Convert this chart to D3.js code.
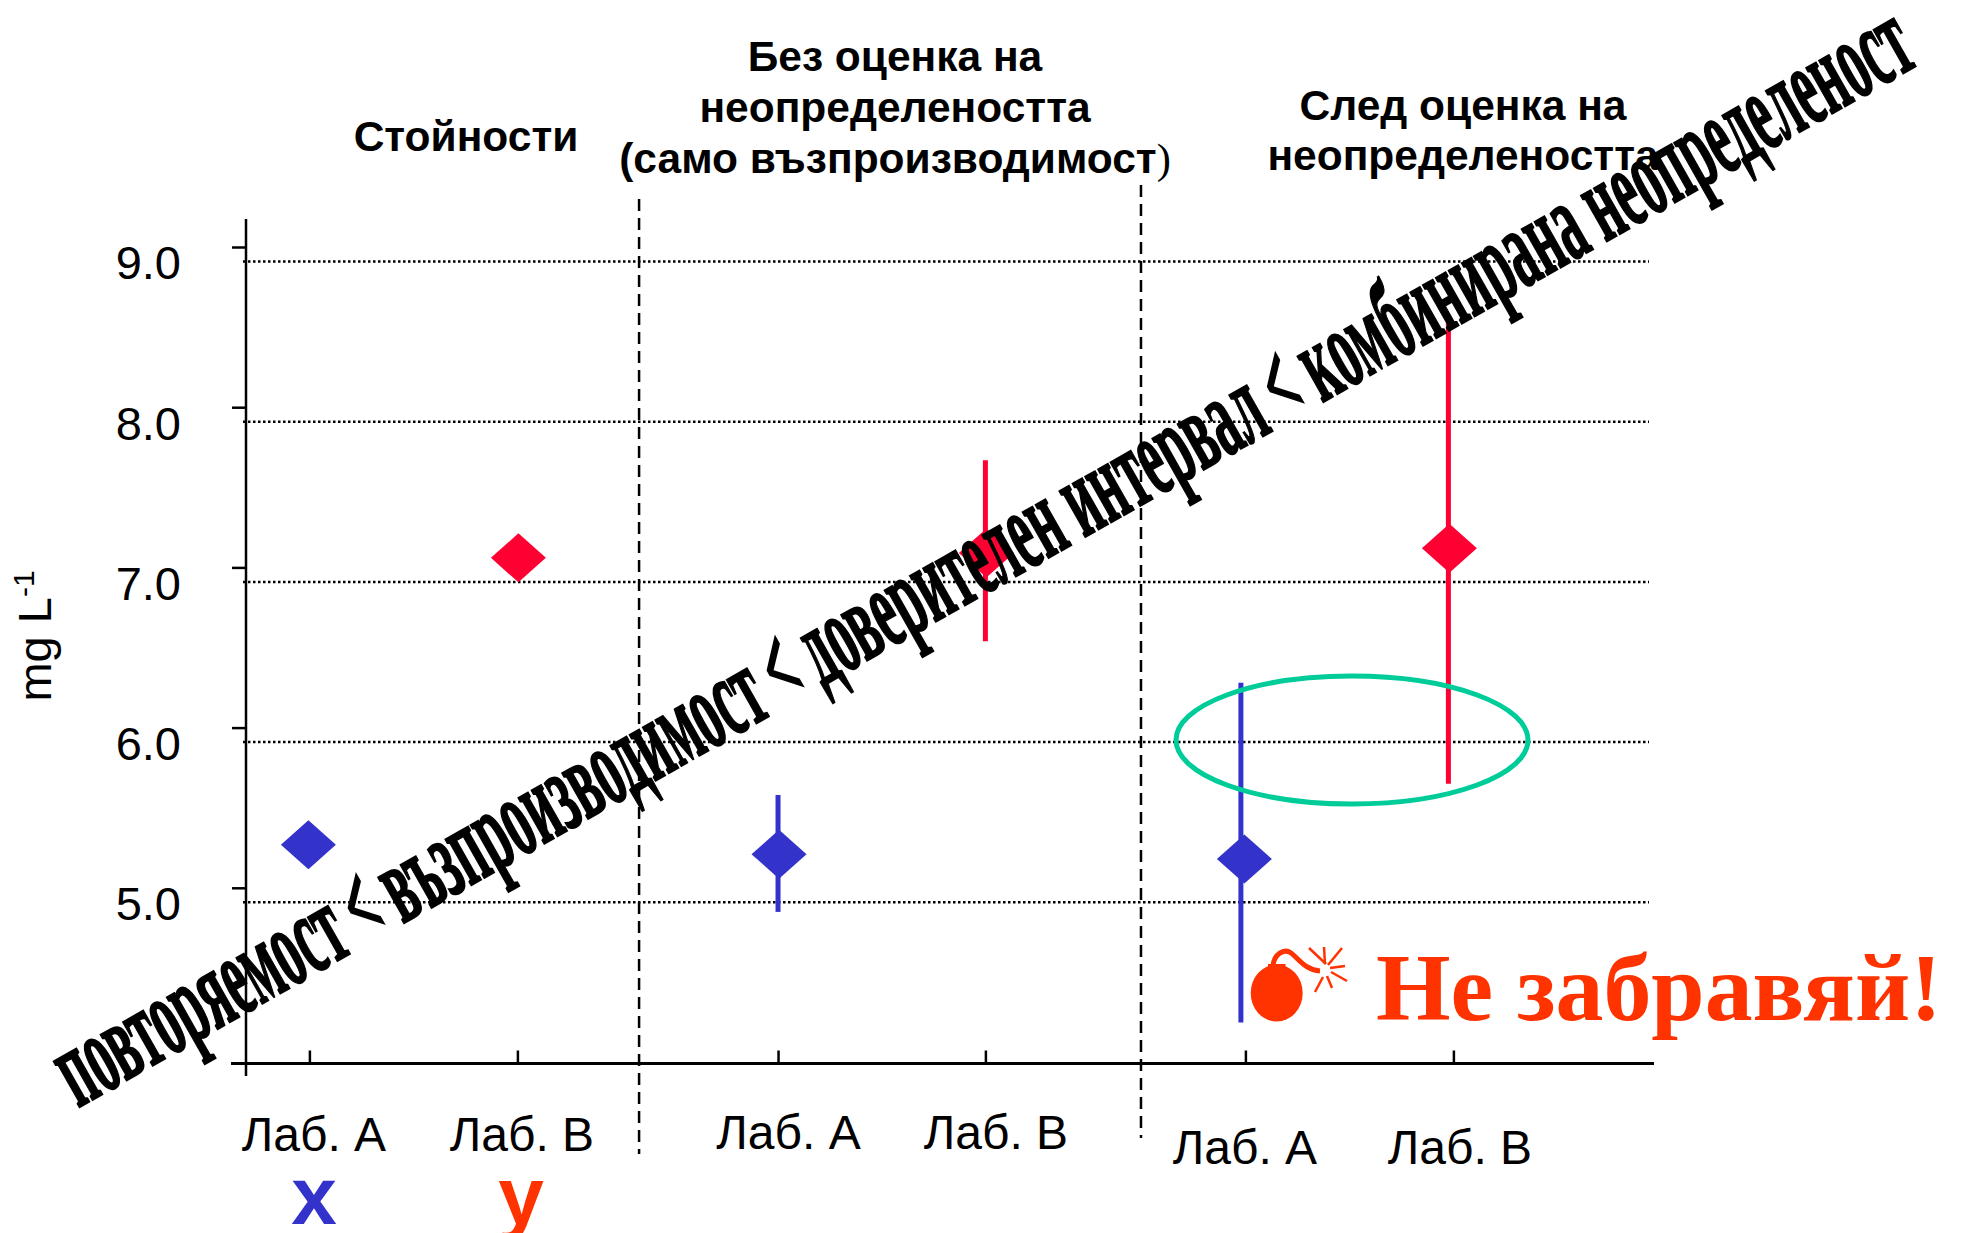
<!DOCTYPE html>
<html><head><meta charset="utf-8">
<script src="https://cdn.jsdelivr.net/npm/d3@7"></script>
<style>html,body{margin:0;padding:0;background:#fff;overflow:hidden}svg{display:block}</style>
</head><body><div id="c"></div>
<script>
// DATA
const categories = ["Лаб. А","Лаб. B","Лаб. А","Лаб. B","Лаб. А","Лаб. B"];
const slots      = [0, 1, 2.253, 3.25, 4.5, 5.5];
const means      = [5.36, 7.15, 5.30, 7.18, 5.27, 7.21];
const errLow     = [null, null, 4.94, 6.63, 4.25, 5.74];
const errHigh    = [null, null, 5.67, 7.76, 6.37, 8.62];
const yTicks     = [4, 5, 6, 7, 8, 9];
const groupRules = [1.585, 3.998];
const headerA = ["Стойности"];
const headerB = ["Без оценка на","неопределеността","(само възпроизводимост"];
const headerC = ["След оценка на","неопределеността"];
const banner = "повторяемост < възпроизводимост < доверителен интервал < комбинирана неопределеност";
const reminder = "Не забравяй!";

// LAYOUT
const W=1961,H=1233, BLUE="#3333CC",RED="#FF0033",ORANGE="#FF3300",GREEN="#00CC99";
const SANS="'Liberation Sans',Arial,sans-serif", SERIF="'Liberation Serif','Times New Roman',serif";
const colorOf=i=>i%2?RED:BLUE;
const y=d3.scaleLinear().domain([4,9]).range([1062.5,261.5]);
const x=d3.scaleLinear().domain([0,1]).range([309.4,517.4]);
const svg=d3.select("#c").append("svg").attr("width",W).attr("height",H).attr("viewBox",`0 0 ${W} ${H}`);

// gridlines
svg.append("g").selectAll("line").data(yTicks.filter(v=>v>4)).join("line")
  .attr("x1",243).attr("x2",1649).attr("y1",d=>y(d)).attr("y2",d=>y(d))
  .attr("stroke","#000").attr("stroke-width",2.5).attr("stroke-dasharray","2.5 2.5");

// dashed group rules
const ruleTop=[199,185], ruleBottom=[1154,1138];
svg.append("g").selectAll("line").data(groupRules).join("line")
  .attr("x1",d=>x(d)).attr("x2",d=>x(d)).attr("y1",(d,i)=>ruleTop[i]).attr("y2",(d,i)=>ruleBottom[i])
  .attr("stroke","#000").attr("stroke-width",2.5).attr("stroke-dasharray","12 7");

// y axis (ticks sit slightly above the gridlines, as in the picture)
const yAxis=svg.append("g").attr("transform","translate(246,-14.5)")
  .call(d3.axisLeft(y).tickValues(yTicks.filter(v=>v>4)).tickSize(14).tickFormat(d3.format(".1f")));
yAxis.select(".domain").remove();
yAxis.selectAll("line").attr("stroke","#000").attr("stroke-width",2.5);
yAxis.selectAll("text").attr("x",-65).attr("dy","0.72em").attr("font-family",SANS).attr("font-size",47).attr("fill","#000");
yAxis.selectAll("text").attr("y",-2);
svg.append("line").attr("x1",246).attr("x2",246).attr("y1",219).attr("y2",1076).attr("stroke","#000").attr("stroke-width",2.5);

// x axis
const xAxis=svg.append("g").attr("transform","translate(0,1063.5)")
  .call(d3.axisBottom(x).tickValues(slots).tickSize(-13).tickFormat((d,i)=>categories[i]));
xAxis.select(".domain").remove();
xAxis.selectAll("line").attr("stroke","#000").attr("stroke-width",2.5);
const labelDx=[4,4,10,10,-1,6], labelBase=[1151,1151,1149,1149,1164,1164];
xAxis.selectAll("text").attr("font-family",SANS).attr("font-size",48).attr("fill","#000").attr("text-anchor","middle")
  .attr("dy",null).attr("x",(d,i)=>labelDx[i]).attr("y",(d,i)=>labelBase[i]-1063.5);
svg.append("line").attr("x1",231).attr("x2",1654).attr("y1",1063.5).attr("y2",1063.5).attr("stroke","#000").attr("stroke-width",3);

// error bars
const errDx=[0,0,0,0,-4.5,-5];
svg.append("g").selectAll("line").data(means.map((m,i)=>i).filter(i=>errLow[i]!==null)).join("line")
  .attr("x1",i=>x(slots[i])+errDx[i]).attr("x2",i=>x(slots[i])+errDx[i])
  .attr("y1",i=>y(errHigh[i])).attr("y2",i=>y(errLow[i]))
  .attr("stroke",colorOf).attr("stroke-width",5);

// diamonds
const diamond=d3.line()([[0,-24.5],[27.5,0],[0,24.5],[-27.5,0]])+"Z";
const diaDx=[-1,1,1,1,-1,-4];
svg.append("g").selectAll("path").data(means).join("path")
  .attr("d",diamond).attr("fill",(d,i)=>colorOf(i))
  .attr("transform",(d,i)=>`translate(${x(slots[i])+diaDx[i]},${y(d)})`);

// ellipse
svg.append("ellipse").attr("cx",1352).attr("cy",740).attr("rx",176).attr("ry",64)
  .attr("fill","none").attr("stroke",GREEN).attr("stroke-width",5);

// y title
const yt=svg.append("text").attr("transform","translate(51,636) rotate(-90)").attr("text-anchor","middle")
  .attr("font-family",SANS).attr("font-size",47).attr("fill","#000");
yt.append("tspan").text("mg L");
yt.append("tspan").text("-1").attr("font-size",30).attr("dy",-17);

// headers
function header(lines,cx,y0,step){
  const t=svg.append("g").attr("font-family",SANS).attr("font-weight","bold").attr("font-size",42.5).attr("fill","#000").attr("text-anchor","middle");
  return t.selectAll("text").data(lines).join("text").attr("x",cx).attr("y",(d,i)=>y0+i*step).text(d=>d);
}
header(headerA,466,151,0);
const hb=header(headerB,895,71,51);
hb.filter((d,i)=>i===2).append("tspan").text(")").attr("font-family",SERIF).attr("font-weight","normal");
header(headerC,1463,120,50);

// x / y marks
svg.append("text").attr("x",314).attr("y",1224).attr("text-anchor","middle").attr("font-family",SANS).attr("font-weight","bold").attr("font-size",82).attr("fill",BLUE).text("x");
svg.append("text").attr("x",521).attr("y",1224).attr("text-anchor","middle").attr("font-family",SANS).attr("font-weight","bold").attr("font-size",82).attr("fill",ORANGE).text("y");

// bomb
const bomb=svg.append("g").attr("fill",ORANGE).attr("stroke","none");
bomb.append("ellipse").attr("cx",1276.7).attr("cy",993).attr("rx",26).attr("ry",28.5);
bomb.append("rect").attr("x",1268).attr("y",964).attr("width",17.5).attr("height",14);
bomb.append("path").attr("d","M1273,966 C1274,954 1284,948 1291,953 C1298,958 1305,970 1320,971")
  .attr("fill","none").attr("stroke",ORANGE).attr("stroke-width",5);
const sparks=[[1326,964,1309,948],[1325,964,1324,947],[1328,965,1342,948],[1330,968,1345,966],[1331,972,1347,981],[1327,976,1332,988],[1323,977,1315,992]];
bomb.selectAll("line").data(sparks).join("line").attr("x1",d=>d[0]).attr("y1",d=>d[1]).attr("x2",d=>d[2]).attr("y2",d=>d[3])
  .attr("stroke",ORANGE).attr("stroke-width",2.5);

// reminder
svg.append("text").attr("x",1376).attr("y",1020).attr("font-family",SERIF).attr("font-weight","bold").attr("font-size",96)
  .attr("fill",ORANGE).attr("textLength",566).attr("lengthAdjust","spacingAndGlyphs").text(reminder);

// banner
svg.append("text").attr("transform","translate(78,1108) rotate(-29.55)").attr("font-family",SERIF).attr("font-weight","bold")
  .attr("font-size",114).attr("fill","#000").attr("stroke","#000").attr("stroke-width",2.2)
  .attr("textLength",2118).attr("lengthAdjust","spacingAndGlyphs").text(banner);
</script></body></html>
